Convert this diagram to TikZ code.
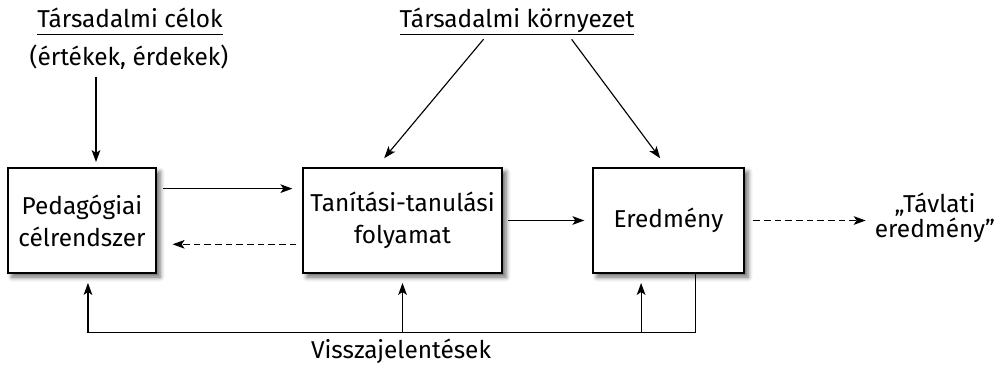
\documentclass[tikz,border=0pt]{standalone}
\usepackage{fontspec}
\setmainfont{Fira Sans}
\usetikzlibrary{arrows.meta,calc,shadows.blur}

\newcommand{\ulbl}[1]{\underline{#1\vphantom{y}}}

\tikzset{
  box/.style={draw, line width=0.9pt, fill=white, minimum height=78.75pt, align=center,
    font=\fontsize{18.3}{24}\selectfont,
    blur shadow={shadow xshift=3pt, shadow yshift=-3pt, shadow blur radius=3.5pt, shadow opacity=60}},
  lbl/.style={inner sep=0.75pt, align=center, font=\fontsize{18.3}{17.5}\selectfont},
  arr/.style={-{Stealth[length=9pt,width=6.5pt,inset=2.2pt]}, line width=0.85pt},
  dsh/.style={arr, dash pattern=on 5pt off 3pt},
}

\begin{document}
\begin{tikzpicture}[x=0.75pt,y=0.75pt,yscale=-1,xscale=1]
\useasboundingbox (0,0) rectangle (999,365);

% Boxes
\node[box, minimum width=111pt] (ped) at (82,220.5) {Pedagógiai\\célrendszer};
\node[box, minimum width=149.25pt] (tan) at (402.5,220.5) {Tanítási-tanulási\\folyamat};
\node[box, minimum width=113.25pt] (ered) at (668.5,220.5) {Eredmény};

% Text Node
\node[lbl, anchor=base] (celok) at (130,27) {\ulbl{Társadalmi célok}};
% Text Node
\node[lbl, anchor=base] (ertek) at (129,65) {(értékek, érdekek)};
% Text Node
\node[lbl, anchor=base] (korny) at (517,27) {\ulbl{Társadalmi környezet}};
% Text Node
\node[lbl] (tavlati) at (935,218) {„Távlati\\eredmény”};
% Text Node
\node[lbl, anchor=base] (vissza) at (401,358) {Visszajelentések};

\coordinate (c1) at (96,0);
\coordinate (fb) at (0,332);
\coordinate (e3) at ($(ered.south west)!0.32!(ered.south east)$);

%Straight Lines
\draw[arr, shorten <=5pt, shorten >=4pt] (ertek.south -| c1) -- (ped.north -| c1);
\draw[arr, shorten <=3pt, shorten >=9pt] ($(korny.south west)!0.37!(korny.south east)$) -- ($(tan.north west)!0.37!(tan.north east)$);
\draw[arr, shorten <=3pt, shorten >=8.5pt] ($(korny.south west)!0.72!(korny.south east)$) -- ($(ered.north west)!0.49!(ered.north east)$);

\draw[arr, shorten <=5pt, shorten >=7.5pt] ($(ped.north east)!0.2!(ped.south east)$) -- ($(tan.north west)!0.2!(tan.south west)$);
\draw[dsh, shorten <=4.5pt, shorten >=12pt] ($(tan.north west)!0.724!(tan.south west)$) -- ($(ped.north east)!0.724!(ped.south east)$);
\draw[arr, shorten <=4pt, shorten >=6pt] ($(tan.north east)!0.5!(tan.south east)$) -- ($(ered.north west)!0.5!(ered.south west)$);
\draw[dsh, shorten <=6.5pt, shorten >=6pt] (ered.east) -- (tavlati.west |- ered.east);

% Feedback
\draw[arr, shorten >=7pt] ($(ered.south west)!0.68!(ered.south east)$) -- ++(0,59) -| ($(ped.south west)!0.54!(ped.south east)$);
\draw[arr, shorten >=7pt] (tan.south |- fb) -- (tan.south);
\draw[arr, shorten >=7pt] (e3 |- fb) -- (e3);

\end{tikzpicture}
\end{document}
